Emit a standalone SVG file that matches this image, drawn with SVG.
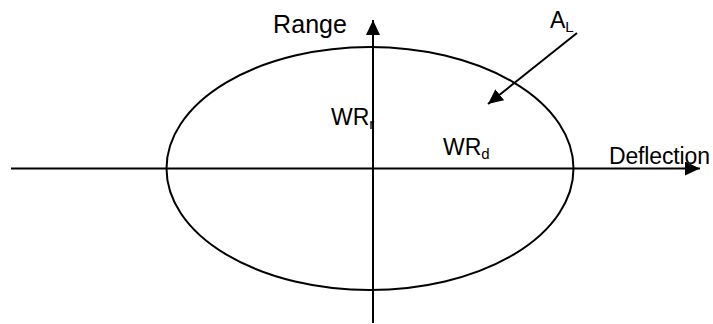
<svg xmlns="http://www.w3.org/2000/svg" width="713" height="324" viewBox="0 0 713 324">
<style>
.t{font-family:"Liberation Sans",Arial,sans-serif;font-size:23px;fill:#000}
.s{font-size:15px}
.ln{stroke:#000;stroke-width:2;fill:none}
</style>
<defs>
<marker id="ah" markerUnits="userSpaceOnUse" markerWidth="16" markerHeight="16" refX="15" refY="7" orient="auto">
<path d="M0,0 L15,7 L0,14 Z" fill="#000"/>
</marker>
</defs>
<rect width="713" height="324" fill="#fff"/>
<g id="ellipse-AL">
<ellipse class="ln" cx="370" cy="168.5" rx="203.5" ry="121.5"/>
</g>
<g id="connectors">
<line class="ln" x1="11" y1="168.5" x2="700" y2="168.5" marker-end="url(#ah)"/>
<line class="ln" x1="373" y1="323" x2="373" y2="20" marker-end="url(#ah)"/>
<line class="ln" x1="577" y1="33" x2="488" y2="104" marker-end="url(#ah)"/>
</g>
<g id="label-range"><text class="t" x="273" y="33" style="font-size:25px" textLength="74">Range</text></g>
<g id="label-deflection"><text class="t" x="609" y="164" textLength="101">Deflection</text></g>
<g id="label-AL"><text class="t" x="550" y="28">A<tspan class="s" dy="4">L</tspan></text></g>
<g id="label-WRr"><text class="t" x="331" y="125">WR<tspan class="s" dy="4">r</tspan></text></g>
<g id="label-WRd"><text class="t" x="443" y="155">WR<tspan class="s" dy="4">d</tspan></text></g>
</svg>
